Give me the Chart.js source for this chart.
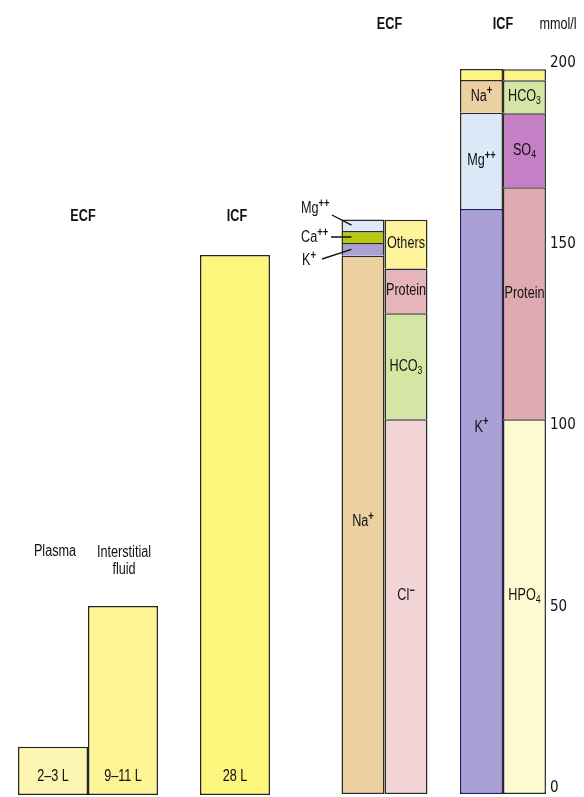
<!DOCTYPE html>
<html lang="en">
<head>
<meta charset="UTF-8">
<title>Body fluid compartments and their electrolytes</title>
<script src="https://cdn.jsdelivr.net/npm/chart.js"></script>
<style>
    html, body {
        margin: 0;
        padding: 0;
        background: #ffffff;
        overflow: hidden;
    }
    #wrap {
        position: relative;
        width: 584px;
        height: 797px;
    }
    canvas {
        position: absolute;
        left: 0;
        top: 0;
    }
</style>
</head>
<body>
<div id="wrap">
    <canvas id="volume-chart" width="584" height="820"></canvas>
    <canvas id="ion-chart" width="584" height="820"></canvas>
</div>

<script>
    // fluid volumes in litres
    const volumeGroups = ['ECF', 'ICF'];
    const plasmaVolume = [2.5, null];
    const interstitialVolume = [9.8, null];
    const icfVolume = [null, 28];
    const volumeLabels = ['2–3 L', '9–11 L', '28 L'];

    // ion composition in mmol/l, bottom to top of each column
    const ecfCations = ['Na^+', 'K^+', 'Ca^++', 'Mg^++'];
    const ecfCationValues = [148.5, 3.5, 3.3, 3.2];
    const ecfAnions = ['Cl^−', 'HCO_3', 'Protein', 'Others'];
    const ecfAnionValues = [103.4, 29.2, 12.4, 13.4];
    const icfCations = ['K^+', 'Mg^++', 'Na^+', 'Other'];
    const icfCationValues = [161.4, 26.5, 9.1, 3.0];
    const icfAnions = ['HPO_4', 'Protein', 'SO_4', 'HCO_3', 'Other'];
    const icfAnionValues = [103.4, 64.0, 20.4, 9.1, 3.0];
    const mmolTicks = [0, 50, 100, 150, 200];

    const FONT = '"Liberation Sans", Arial, sans-serif';
    const TICK_FONT = '"DejaVu Sans Condensed", "Liberation Sans", sans-serif';
    const NARROW = 0.79;   // horizontal squeeze so Liberation Sans reads like Arial Narrow
    const INK = '#111111';

    const ionColors = {
        'ECF Na^+': '#ecd09f', 'ECF K^+': '#a9a0d6', 'ECF Ca^++': '#b8c813', 'ECF Mg^++': '#dde9f8',
        'ECF Cl^−': '#f3d4d6', 'ECF HCO_3': '#d5e5a4', 'ECF Protein': '#e6b5b9', 'ECF Others': '#fdf49c',
        'ICF K^+': '#aaa0d6', 'ICF Mg^++': '#dce9f8', 'ICF Na^+': '#ecd09f', 'ICF Other': '#fdf386',
        'ICF HPO_4': '#fdfad2', 'ICF Protein': '#e0aab2', 'ICF SO_4': '#c57fc4', 'ICF HCO_3': '#d5e5a4'
    };

    // draws "Na^+" / "HCO_3" style labels with a raised or lowered tail, condensed
    function drawRich(ctx, text, x, y, size, weight, align) {
        const m = text.match(/^([^^_]*)([\^_])(.+)$/);
        const parts = m ? [[m[1], 0], [m[3], m[2] === '^' ? 1 : -1]] : [[text, 0]];
        const fontFor = k => {
            if (k > 0) return 'bold ' + Math.round(size * 0.76) + 'px ' + FONT;
            if (k < 0) return weight + ' ' + Math.round(size * 0.7) + 'px ' + FONT;
            return weight + ' ' + size + 'px ' + FONT;
        };
        let w = 0;
        parts.forEach(p => {
            ctx.font = fontFor(p[1]);
            p.push(ctx.measureText(p[0]).width * NARROW);
            w += p[2];
        });
        let cx = align === 'left' ? x : x - w / 2;
        ctx.textAlign = 'left';
        ctx.textBaseline = 'middle';
        parts.forEach(p => {
            ctx.font = fontFor(p[1]);
            const dy = p[1] > 0 ? -size * 0.33 : (p[1] < 0 ? size * 0.28 : 0);
            ctx.save();
            ctx.translate(cx, y + dy);
            ctx.scale(NARROW, 1);
            ctx.fillText(p[0], 0, 0);
            ctx.restore();
            cx += p[2];
        });
    }

    // ---------- left chart: compartment volumes ----------
    const volumeText = {
        id: 'volumeText',
        afterDatasetsDraw(chart) {
            const ctx = chart.ctx;
            const plasma = chart.getDatasetMeta(0).data[0];
            const inter = chart.getDatasetMeta(1).data[0];
            const icf = chart.getDatasetMeta(2).data[1];
            ctx.save();
            ctx.fillStyle = INK;
            drawRich(ctx, 'ECF', (plasma.x + inter.x) / 2 - 5, 217, 16, 'bold', 'center');
            drawRich(ctx, 'ICF', icf.x + 2, 217, 16, 'bold', 'center');
            drawRich(ctx, 'Plasma', plasma.x + 2, 552, 16, 'normal', 'center');
            drawRich(ctx, 'Interstitial', inter.x + 1, 553, 16, 'normal', 'center');
            drawRich(ctx, 'fluid', inter.x + 1, 570, 16, 'normal', 'center');
            [plasma, inter, icf].forEach((bar, i) => {
                drawRich(ctx, volumeLabels[i], bar.x, bar.base - 18, 16, 'normal', 'center');
            });
            ctx.restore();
        }
    };

    new Chart(document.getElementById('volume-chart'), {
        type: 'bar',
        data: {
            labels: volumeGroups,
            datasets: [
                { label: 'Plasma', data: plasmaVolume, backgroundColor: '#fcf6b2' },
                { label: 'Interstitial fluid', data: interstitialVolume, backgroundColor: '#fdf595' },
                { label: 'ICF', data: icfVolume, backgroundColor: '#fef57c', barPercentage: 0.5 }
            ]
        },
        options: {
            responsive: false,
            devicePixelRatio: 1,
            animation: false,
            layout: { padding: { left: 14.5, right: 275.5, top: 255, bottom: 25 } },
            datasets: {
                bar: {
                    skipNull: true,
                    categoryPercentage: 140 / 147,
                    barPercentage: 1,
                    borderWidth: 1.5,
                    borderColor: '#26261c',
                    borderSkipped: false
                }
            },
            plugins: { legend: { display: false }, tooltip: { enabled: false } },
            scales: {
                x: { display: false },
                y: { display: false, min: 0, max: 28 }
            }
        },
        plugins: [volumeText]
    });

    // ---------- right chart: ion composition ----------
    function ionSets(group, xVal, stack, names, values) {
        return names.map((n, i) => ({
            label: group + ' ' + n,
            name: n,
            data: [{ x: xVal, y: values[i] }],
            stack: stack,
            backgroundColor: ionColors[group + ' ' + n],
            borderColor: (group === 'ICF' && n === 'K^+') ? '#1e1e66' : '#2c2c22',
            borderSkipped: i === 0 ? false : 'start'
        }));
    }

    const ionDatasets = [
        ...ionSets('ECF', 1, 'cations', ecfCations, ecfCationValues),
        ...ionSets('ECF', 1, 'anions', ecfAnions, ecfAnionValues),
        ...ionSets('ICF', 2, 'cations', icfCations, icfCationValues),
        ...ionSets('ICF', 2, 'anions', icfAnions, icfAnionValues)
    ];

    const ionText = {
        id: 'ionText',
        afterDatasetsDraw(chart, args, opts) {
            const ctx = chart.ctx;
            ctx.save();
            ctx.fillStyle = INK;
            ctx.strokeStyle = INK;

            chart.data.datasets.forEach((ds, i) => {
                const bar = chart.getDatasetMeta(i).data[0];
                if (ds.name === 'Other' || Math.abs(bar.base - bar.y) < 25) return;
                const shift = opts.shift[ds.label] || 0;
                drawRich(ctx, ds.name, bar.x, (bar.y + bar.base) / 2 + shift, 16, 'normal', 'center');
            });

            opts.callouts.forEach(c => {
                const idx = chart.data.datasets.findIndex(d => d.label === c.label);
                const bar = chart.getDatasetMeta(idx).data[0];
                const midY = (bar.y + bar.base) / 2;
                ctx.lineWidth = 1.4;
                ctx.beginPath();
                ctx.moveTo(c.from[0], c.from[1]);
                ctx.lineTo(bar.x - bar.width / 2 + 10, midY);
                ctx.stroke();
                drawRich(ctx, chart.data.datasets[idx].name, c.at[0], c.at[1], 16, 'normal', 'left');
            });

            const xs = chart.scales.x;
            drawRich(ctx, 'ECF', xs.getPixelForValue(1) + 5, 25, 16, 'bold', 'center');
            drawRich(ctx, 'ICF', xs.getPixelForValue(2), 25, 16, 'bold', 'center');
            drawRich(ctx, 'mmol/l', chart.scales.y.left + 10, 25, 16, 'normal', 'center');
            ctx.restore();
        }
    };

    new Chart(document.getElementById('ion-chart'), {
        type: 'bar',
        data: { datasets: ionDatasets },
        options: {
            responsive: false,
            devicePixelRatio: 1,
            animation: false,
            layout: { padding: { left: 325.25, right: 0, top: 69, bottom: 26 } },
            datasets: {
                bar: {
                    categoryPercentage: 86 / 118.5,
                    barPercentage: 1,
                    borderWidth: 1.5
                }
            },
            plugins: {
                legend: { display: false },
                tooltip: { enabled: false },
                ionText: {
                    shift: {
                        'ECF Na^+': -3,
                        'ECF Cl^−': -11,
                        'ICF HPO_4': -11,
                        'ICF Protein': -10,
                        'ICF K^+': -74
                    },
                    callouts: [
                        { label: 'ECF Mg^++', at: [301, 209], from: [332, 215] },
                        { label: 'ECF Ca^++', at: [301, 238], from: [331, 237] },
                        { label: 'ECF K^+', at: [302, 261], from: [322, 259] }
                    ]
                }
            },
            scales: {
                x: {
                    type: 'linear',
                    display: false,
                    offset: false,
                    min: 0.5,
                    max: 2.38,
                    afterBuildTicks: axis => { axis.ticks = [{ value: 1 }, { value: 2 }]; }
                },
                y: {
                    position: 'right',
                    stacked: true,
                    min: 0,
                    max: 200,
                    afterBuildTicks: axis => { axis.ticks = mmolTicks.map(v => ({ value: v })); },
                    afterFit: axis => { axis.width = 36; },
                    grid: { display: false, drawTicks: false },
                    border: { display: false },
                    ticks: {
                        padding: 2,
                        labelOffset: -6,
                        color: '#111111',
                        font: { family: TICK_FONT, size: 15 }
                    }
                }
            }
        },
        plugins: [ionText]
    });
</script>
</body>
</html>
